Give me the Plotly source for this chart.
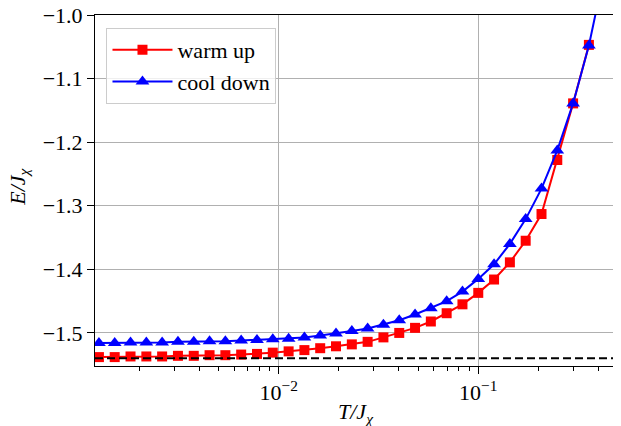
import plotly.graph_objects as go

# Temperatures (T/J_chi)
T_warm = [0.001258, 0.001509, 0.001811, 0.002174, 0.002608, 0.003130, 0.003756,
          0.004507, 0.005409, 0.006491, 0.007789, 0.009346, 0.01122, 0.01346,
          0.01615, 0.01938, 0.02326, 0.02791, 0.03349, 0.04019, 0.04823,
          0.05787, 0.06944, 0.08333, 0.1, 0.12, 0.144, 0.1728, 0.2074,
          0.2488, 0.2986, 0.3583]
E_warm = [-1.538, -1.538, -1.537, -1.537, -1.537, -1.536, -1.536, -1.535,
          -1.535, -1.534, -1.533, -1.531, -1.529, -1.527, -1.524, -1.521,
          -1.518, -1.514, -1.507, -1.500, -1.492, -1.482, -1.469, -1.455,
          -1.437, -1.416, -1.389, -1.355, -1.313, -1.228, -1.139, -1.047]

T_cool = T_warm + [0.4300]
E_cool = [-1.516, -1.516, -1.515, -1.515, -1.515, -1.514, -1.514, -1.513,
          -1.513, -1.512, -1.511, -1.510, -1.509, -1.507, -1.504, -1.501,
          -1.497, -1.493, -1.487, -1.480, -1.471, -1.461, -1.450, -1.435,
          -1.415, -1.392, -1.360, -1.321, -1.273, -1.213, -1.139, -1.048,
          -0.930]

E_ground = -1.540

x_tickvals = [0.01, 0.1]
x_ticktext = ["10<sup>−2</sup>", "10<sup>−1</sup>"]
x_minor = [k * 10.0 ** e for e in (-3, -2, -1) for k in range(2, 10)]
y_tickvals = [-1.5, -1.4, -1.3, -1.2, -1.1, -1.0]

FONT = "Liberation Serif"

fig = go.Figure()
fig.add_trace(go.Scatter(
    x=T_warm, y=E_warm, mode="lines+markers", name="warm up",
    line=dict(color="#ff0000", width=2),
    marker=dict(symbol="square", size=10, color="#ff0000"),
    legendgroup="a", cliponaxis=True))
fig.add_trace(go.Scatter(
    x=T_cool, y=E_cool, mode="lines+markers", name="cool down",
    line=dict(color="#0000ff", width=2),
    marker=dict(symbol="triangle-up", size=12, color="#0000ff"),
    legendgroup="b", cliponaxis=True))

fig.add_shape(type="line", xref="paper", x0=0, x1=1, yref="y",
              y0=E_ground, y1=E_ground,
              line=dict(color="black", width=2, dash="8px,4px"))

fig.add_annotation(text="<i>T/J<sub>χ</sub></i>", xref="paper", yref="paper",
                   x=0.5, y=-0.088, xanchor="center", yanchor="top",
                   showarrow=False, font=dict(family=FONT, size=22))
fig.add_annotation(text="<i>E/J<sub>χ</sub></i>", xref="paper", yref="paper",
                   x=-0.146, y=0.51, xanchor="center", yanchor="middle",
                   textangle=-90, showarrow=False,
                   font=dict(family=FONT, size=22))

# page body has an 8px margin, so the figure is offset by 8px
fig.update_layout(
    width=621, height=426,
    margin=dict(l=87, r=12, t=7, b=68, autoexpand=False),
    paper_bgcolor="white", plot_bgcolor="white",
    font=dict(family=FONT, size=22, color="black"),
    showlegend=True,
    legend=dict(x=0.022, y=0.963, xanchor="left", yanchor="top",
                bgcolor="rgba(255,255,255,0.8)", bordercolor="#cccccc",
                borderwidth=1, font=dict(family=FONT, size=22),
                tracegroupgap=0, traceorder="grouped", itemwidth=60),
)

fig.update_xaxes(
    type="log", range=[-2.920, -0.305], automargin=False,
    tickmode="array", tickvals=x_tickvals, ticktext=x_ticktext,
    ticks="outside", ticklen=7, tickwidth=1, tickcolor="black",
    showgrid=True, gridcolor="#b0b0b0", gridwidth=1,
    showline=True, linecolor="black", linewidth=1, mirror=True,
    minor=dict(tickmode="array", tickvals=x_minor, ticks="outside",
               ticklen=4, tickcolor="black", showgrid=False),
    zeroline=False, ticklabeloverflow="allow",
    tickfont=dict(family=FONT, size=22),
)
fig.update_yaxes(
    range=[-1.552, -1.0], automargin=False,
    tickmode="array", tickvals=y_tickvals, tickformat=".1f",
    ticks="outside", ticklen=7, tickwidth=1, tickcolor="black",
    showgrid=True, gridcolor="#b0b0b0", gridwidth=1,
    showline=True, linecolor="black", linewidth=1, mirror=True,
    zeroline=False, ticklabeloverflow="allow",
    tickfont=dict(family=FONT, size=22),
)

fig.write_html("out.html")
